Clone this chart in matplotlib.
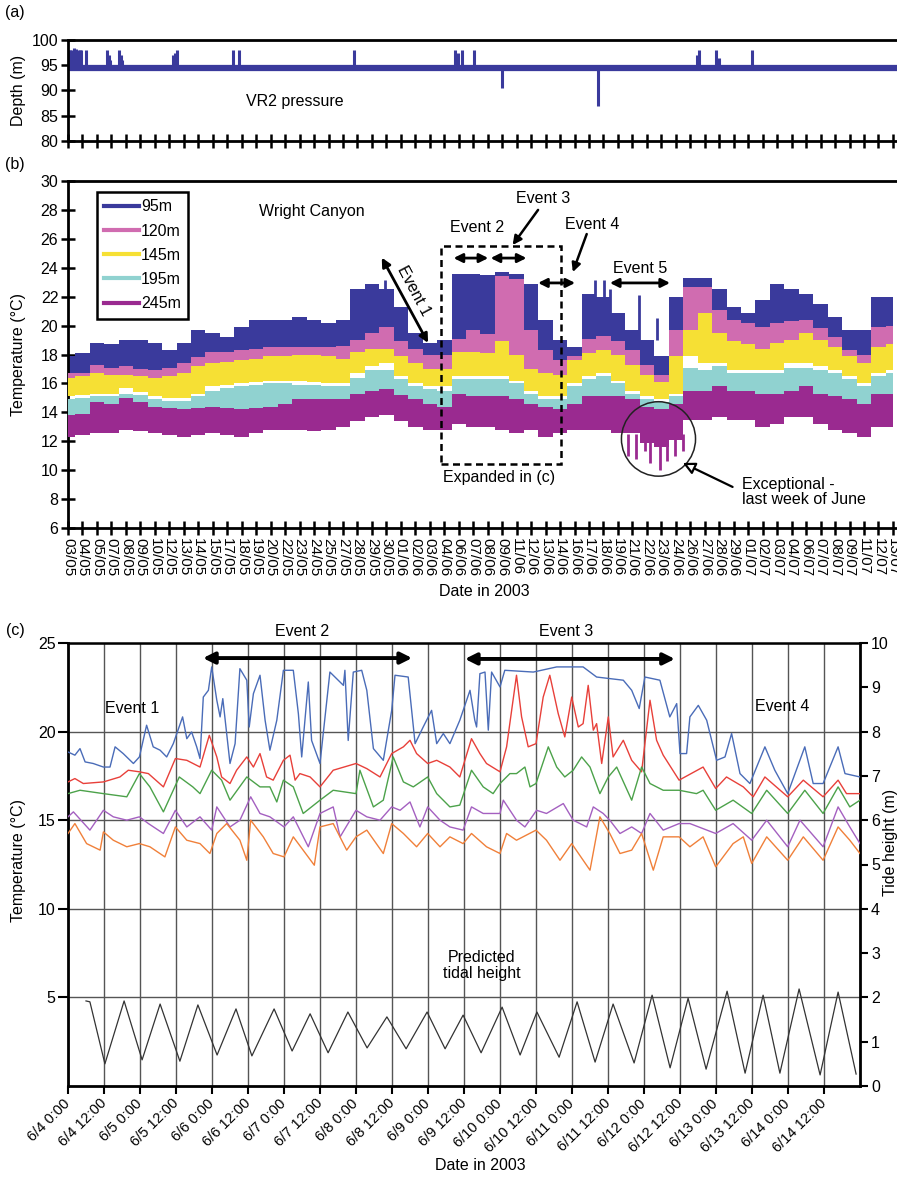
import matplotlib
matplotlib.use('Agg')
import matplotlib.pyplot as plt
from matplotlib.lines import Line2D
from matplotlib.patches import Rectangle, Ellipse

plt.rcParams['font.family'] = ['Liberation Sans', 'DejaVu Sans']
plt.rcParams['font.size'] = 11.5

# ---------------- panel (a): VR2 pressure depth ----------------
depth_base = 94.5
spike_days = [0.0, 0.15, 0.3, 0.5, 0.7, 0.85, 1.0, 1.15, 1.56, 3.37, 3.5, 3.63,
              4.41, 4.55, 4.7, 9.1, 9.25, 9.4, 14.26, 14.77, 24.71, 33.44, 33.7,
              34.0, 35.08, 37.5, 45.8, 54.3, 54.5, 56.0, 56.2, 59.1]
spike_depth = [98.0, 98.0, 98.0, 98.4, 98.3, 98.0, 98.0, 98.0, 98.0, 98.0, 97.0, 96.0,
               98.0, 97.0, 96.0, 97.0, 97.5, 98.0, 98.0, 98.0, 98.0, 98.0, 97.5,
               98.0, 98.0, 90.5, 87.0, 97.0, 98.0, 98.0, 96.5, 98.0]

# ---------------- panel (b): daily band envelopes (one value per date tick) ----------------
date_labels = ['03/05', '04/05', '05/05', '07/05', '08/05', '09/05', '10/05', '12/05', '13/05',
               '14/05', '15/05', '17/05', '18/05', '19/05', '20/05', '22/05', '23/05', '24/05',
               '25/05', '27/05', '28/05', '29/05', '30/05', '01/06', '02/06', '03/06', '04/06',
               '06/06', '07/06', '08/06', '09/06', '11/06', '12/06', '13/06', '14/06', '16/06',
               '17/06', '18/06', '19/06', '21/06', '22/06', '23/06', '24/06', '26/06', '27/06',
               '28/06', '29/06', '01/07', '02/07', '03/07', '04/07', '06/07', '07/07', '08/07',
               '09/07', '11/07', '12/07', '13/07']
tick_step = 1.25  # days between date ticks

t95_hi = [17.9, 18.1, 18.8, 18.7, 19.0, 19.0, 18.8, 18.3, 18.8, 19.7, 19.5, 19.2, 19.9, 20.4,
          20.4, 20.4, 20.6, 20.4, 20.2, 20.4, 22.5, 22.9, 22.5, 21.3, 19.5, 18.8, 19.0, 23.6,
          23.6, 23.5, 23.7, 23.6, 22.9, 20.4, 19.0, 18.5, 22.2, 22.0, 20.9, 19.7, 19.0, 17.9,
          22.0, 23.3, 23.3, 22.5, 21.3, 20.9, 21.8, 22.9, 22.5, 22.2, 21.5, 20.6, 19.7, 19.7,
          22.0, 22.0]
t95_lo = [16.7, 16.7, 17.3, 17.1, 17.2, 17.0, 16.9, 17.1, 17.4, 17.8, 18.2, 18.2, 18.3, 18.4,
          18.5, 18.5, 18.5, 18.5, 18.5, 18.6, 19.0, 19.5, 19.9, 18.9, 18.4, 18.0, 18.0, 19.1,
          19.7, 19.4, 19.5, 18.5, 19.7, 18.3, 17.6, 17.9, 19.1, 19.3, 18.9, 18.3, 17.3, 16.6,
          19.7, 22.7, 22.7, 21.1, 20.4, 20.2, 19.9, 20.2, 20.3, 20.4, 19.8, 19.2, 18.3, 18.0,
          19.9, 20.0]
t120_hi = [16.7, 16.7, 17.3, 17.1, 17.2, 17.0, 16.9, 17.1, 17.4, 17.8, 18.2, 18.2, 18.3, 18.4,
           18.5, 18.5, 18.5, 18.5, 18.5, 18.6, 19.0, 19.5, 19.9, 18.9, 18.4, 18.0, 18.0, 19.1,
           19.7, 19.4, 23.4, 23.2, 19.7, 18.3, 17.6, 17.9, 19.1, 19.3, 18.9, 18.3, 17.3, 16.6,
           19.7, 22.7, 22.7, 21.1, 20.4, 20.2, 19.9, 20.2, 20.3, 20.4, 19.8, 19.2, 18.3, 18.0,
           19.9, 20.0]
t120_lo = [16.4, 16.5, 16.7, 16.6, 16.6, 16.5, 16.4, 16.5, 16.7, 17.2, 17.4, 17.5, 17.6, 17.7,
           17.9, 17.9, 18.0, 18.0, 17.9, 17.7, 18.2, 18.4, 18.4, 17.9, 17.4, 17.0, 17.0, 18.2,
           18.2, 18.1, 18.9, 18.0, 17.0, 16.7, 16.6, 17.6, 18.1, 18.3, 18.0, 17.3, 16.6, 16.1,
           17.9, 19.7, 20.9, 19.5, 18.9, 18.7, 18.4, 18.8, 19.0, 19.5, 19.0, 18.5, 17.9, 17.4,
           18.5, 18.7]
t145_hi = [16.4, 16.5, 16.7, 16.6, 16.6, 16.5, 16.4, 16.5, 16.7, 17.2, 17.4, 17.5, 17.6, 17.7,
           17.9, 17.9, 18.0, 18.0, 17.9, 17.7, 18.2, 18.4, 18.4, 17.9, 17.4, 17.0, 17.0, 18.2,
           18.2, 18.1, 18.9, 18.0, 17.0, 16.7, 16.6, 17.6, 18.1, 18.3, 18.0, 17.3, 16.6, 16.1,
           17.9, 19.7, 20.9, 19.5, 18.9, 18.7, 18.4, 18.8, 19.0, 19.5, 19.0, 18.5, 17.9, 17.4,
           18.5, 18.7]
t145_lo = [15.1, 15.2, 15.3, 15.3, 15.7, 15.4, 15.1, 15.0, 15.0, 15.3, 15.8, 15.9, 16.0, 16.1,
           16.2, 16.2, 16.2, 16.1, 16.0, 16.0, 16.7, 17.2, 17.4, 16.5, 16.0, 15.8, 15.8, 16.5,
           16.5, 16.5, 16.5, 16.2, 15.5, 15.1, 15.1, 16.0, 16.5, 16.7, 16.2, 15.5, 15.1, 14.9,
           15.3, 17.9, 17.4, 17.4, 16.9, 16.9, 16.9, 16.9, 17.4, 17.4, 17.2, 16.9, 16.5, 16.0,
           16.7, 16.9]
t195_hi = [14.9, 15.0, 15.1, 15.1, 15.3, 15.2, 14.9, 14.8, 14.8, 15.1, 15.5, 15.7, 15.8, 15.9,
           16.0, 16.0, 15.9, 15.9, 15.8, 15.8, 16.4, 16.9, 16.9, 16.3, 15.8, 15.6, 15.5, 16.3,
           16.3, 16.3, 16.3, 16.0, 15.3, 14.9, 14.9, 15.8, 16.3, 16.5, 16.0, 15.3, 14.9, 14.7,
           15.1, 17.1, 16.9, 17.2, 16.7, 16.7, 16.7, 16.7, 17.1, 17.1, 16.9, 16.7, 16.3, 15.8,
           16.5, 16.7]
t195_lo = [13.8, 13.9, 14.7, 14.6, 15.0, 14.7, 14.4, 14.3, 14.2, 14.3, 14.4, 14.3, 14.2, 14.3,
           14.4, 14.6, 14.9, 14.9, 14.9, 14.9, 15.3, 15.5, 15.6, 15.2, 14.9, 14.6, 14.4, 15.3,
           15.1, 15.1, 15.1, 14.9, 14.6, 14.4, 14.2, 14.6, 15.1, 15.1, 15.1, 14.9, 14.4, 14.2,
           14.6, 15.5, 15.5, 15.8, 15.5, 15.5, 15.3, 15.3, 15.5, 15.8, 15.3, 15.1, 14.9, 14.6,
           15.3, 15.3]
t245_hi = [13.8, 13.9, 14.7, 14.6, 15.0, 14.7, 14.4, 14.3, 14.2, 14.3, 14.4, 14.3, 14.2, 14.3,
           14.4, 14.6, 14.9, 14.9, 14.9, 14.9, 15.3, 15.5, 15.6, 15.2, 14.9, 14.6, 14.4, 15.3,
           15.1, 15.1, 15.1, 14.9, 14.6, 14.4, 14.2, 14.6, 15.1, 15.1, 15.1, 14.9, 14.4, 14.2,
           14.6, 15.5, 15.5, 15.8, 15.5, 15.5, 15.3, 15.3, 15.5, 15.8, 15.3, 15.1, 14.9, 14.6,
           15.3, 15.3]
t245_lo = [12.3, 12.4, 12.6, 12.6, 12.8, 12.7, 12.6, 12.4, 12.3, 12.4, 12.6, 12.4, 12.3, 12.6,
           12.8, 12.8, 12.8, 12.7, 12.8, 13.0, 13.4, 13.7, 13.8, 13.4, 13.0, 12.8, 12.8, 13.2,
           13.0, 13.0, 12.8, 12.6, 12.8, 12.3, 12.6, 12.8, 12.8, 12.8, 12.6, 12.6, 11.9, 11.6,
           12.1, 13.5, 13.5, 13.7, 13.5, 13.5, 13.0, 13.2, 13.7, 13.7, 13.2, 12.8, 12.6, 12.3,
           13.0, 13.0]
# narrow spikes that stand out of the bands
spk95_days = [27.4, 45.5, 46.3, 46.8, 49.3, 50.9]
spk95_top = [23.15, 23.15, 23.15, 22.5, 22.1, 20.5]
spk245_days = [48.4, 49.1, 49.8, 50.3, 51.1, 51.7, 52.4, 53.1]
spk245_low = [11.0, 10.8, 11.3, 10.5, 10.0, 10.6, 11.0, 11.3]

depths = ['95m', '120m', '145m', '195m', '245m']
colors_b = ['#3a3a9c', '#d06cb0', '#f6e034', '#90d2d0', '#9a2a90']

# ---------------- panel (c): 6/4 - 6/15, hours from 6/4 0:00 ----------------
c95_h = [0, 2.3, 4, 5.7, 8.4, 11.8, 14, 15.7, 18.4, 21.8, 23.8, 26.2, 28.4, 30.7, 32.9, 35.1,
         38.2, 39.6, 41.2, 42.9, 44, 45.1, 46.8, 47.9, 49.6, 50.7, 51.6, 54, 55.7, 57.3, 59.6,
         60.4, 61.8, 64, 65.7, 67.3, 69.6, 71.8, 75.1, 76.8, 77.9, 80.1, 81.2, 84, 87.3, 91.8,
         92.3, 93.4, 95.1, 97.9, 99.6, 101.8, 105.1, 107.9, 109, 113.4, 115.7, 118.4, 121.2,
         122.9, 125.1, 127.3, 130.6, 134, 135.6, 136.2, 137.3, 139, 140.1, 141.2, 144, 145.6,
         155.1, 162.9, 171.7, 176.2, 185.1, 187.9, 190.4, 192.3, 197.3, 200.6, 202.9, 204,
         206.2, 207.3, 210.1, 212.9, 216.2, 219, 221.2, 224, 227.3, 232.3, 235.6, 239.9, 245.6,
         248.4, 251.7, 256.7, 259, 264]
c95_t = [18.85, 18.67, 19.04, 18.29, 18.2, 18.0, 18.0, 19.14, 18.76, 18.2, 18.57, 20.36, 19.14,
         18.95, 18.57, 19.32, 20.83, 19.6, 19.98, 19.14, 18.48, 21.95, 22.33, 23.65, 21.77,
         20.83, 21.86, 18.2, 19.32, 23.55, 22.9, 20.26, 22.14, 23.18, 20.64, 18.95, 20.64,
         23.46, 23.46, 21.0, 18.57, 22.8, 19.5, 18.2, 23.36, 22.61, 23.46, 19.5, 23.36, 23.46,
         22.33, 19.04, 18.38, 21.2, 23.18, 23.08, 19.32, 20.26, 21.2, 19.32, 19.89, 19.32,
         20.64, 22.33, 20.64, 20.26, 23.27, 23.36, 20.08, 23.36, 22.52, 23.46, 23.36, 23.65,
         23.65, 23.08, 22.9, 22.33, 21.3, 23.08, 22.9, 20.83, 21.58, 18.76, 18.76, 20.83,
         21.48, 20.64, 18.38, 18.57, 19.89, 17.63, 17.07, 19.14, 17.82, 16.5, 19.14, 17.07,
         17.07, 19.14, 17.63, 17.44]
c120_h = [0, 2.3, 5.1, 11.8, 17.3, 20.1, 23.8, 26.8, 31.8, 35.8, 39.6, 44, 47.1, 49.6, 51.2,
          54, 56.2, 59.6, 61.8, 64, 66.2, 68.4, 71.8, 74, 75.7, 77.3, 80.7, 84, 88.4, 96, 99.6,
          104, 107.9, 111.8, 114, 116.2, 119.9, 122.9, 127.3, 130.6, 134.5, 137.3, 139.5, 144,
          146.2, 149.5, 151.2, 153.4, 156, 158.4, 160.6, 163.4, 165.6, 167.9, 170.1, 171.7,
          173.4, 175.1, 176.2, 177.9, 180.1, 181.7, 185.1, 187.9, 191.2, 194, 196.2, 198.4,
          203.7, 211.7, 215.9, 219.5, 225.1, 228.4, 232.3, 239.9, 245.1, 251.7, 256.7, 259.5, 264]
c120_t = [17.16, 17.35, 17.07, 17.16, 17.44, 17.82, 17.73, 17.63, 16.88, 18.48, 18.38, 18.0,
          19.79, 18.57, 17.44, 17.07, 17.82, 18.57, 18.0, 18.76, 17.44, 17.26, 18.38, 18.67,
          17.26, 17.63, 17.44, 16.88, 17.82, 18.2, 17.91, 17.44, 18.76, 19.14, 19.51, 18.76,
          18.2, 18.38, 18.0, 17.44, 19.6, 18.76, 18.2, 17.73, 19.14, 23.18, 20.83, 19.14,
          19.32, 21.95, 23.18, 21.02, 19.7, 21.95, 20.26, 20.45, 22.61, 20.08, 20.45, 18.2,
          20.83, 18.57, 19.51, 18.38, 17.73, 21.77, 19.51, 18.67, 17.26, 18.0, 16.79, 17.44,
          16.88, 16.32, 17.44, 16.32, 17.26, 16.32, 17.26, 16.5, 16.5]
c145_h = [0, 4, 11.8, 19.6, 23.8, 27.3, 31.8, 37.1, 41.6, 44, 47.9, 51.2, 54, 59.6, 64, 67.3,
          69.6, 71.8, 75.1, 78.4, 84, 88.4, 96, 97.3, 101.8, 105.1, 108.4, 111.8, 115.1, 119.9,
          122.9, 127.3, 130.6, 134.5, 138.4, 141.7, 144, 147.3, 149.5, 152.3, 154, 156, 160.1,
          162.9, 165.6, 168.4, 171.2, 174, 177.3, 180.1, 182.9, 187.9, 191.2, 194, 198.4,
          203.7, 209.5, 211.7, 215.9, 221.7, 227.9, 232.9, 239.9, 245.6, 251.7, 256.7, 260.6, 264]
c145_t = [16.5, 16.69, 16.5, 16.32, 17.63, 16.88, 15.47, 17.44, 16.88, 16.5, 17.82, 17.26,
          16.13, 17.44, 16.88, 16.88, 16.03, 17.26, 16.88, 15.38, 16.13, 16.69, 16.5, 17.82,
          15.75, 16.13, 18.57, 17.16, 16.88, 17.44, 16.5, 15.75, 15.85, 17.82, 16.88, 16.5,
          17.07, 17.63, 17.63, 18.0, 16.88, 17.07, 19.14, 18.0, 17.44, 17.82, 18.57, 18.0,
          16.5, 17.44, 18.0, 16.13, 18.0, 17.07, 16.69, 16.69, 16.5, 16.69, 15.56, 16.13,
          15.38, 16.69, 15.38, 16.69, 15.38, 16.88, 15.75, 16.13]
c195_h = [0, 1.8, 7.3, 11.8, 15.1, 19.6, 23.8, 26.8, 31.8, 35.8, 39.6, 44, 47.9, 49.6, 54,
          57.3, 60.9, 64, 67.3, 72, 75.1, 80.1, 84, 88.4, 90.7, 96, 99.6, 104, 107.9, 110.7,
          114, 117.3, 119.9, 124, 127.3, 131.7, 134.5, 138.4, 144, 145.1, 149.5, 152.3, 156.2,
          159.5, 165.1, 168.4, 172.9, 175.1, 178.4, 180.6, 184, 187.9, 191.2, 194, 198.4,
          203.7, 207.3, 215.9, 221.7, 227.9, 232.9, 239.9, 244, 251.7, 256.7, 260.6, 264]
c195_t = [15.19, 15.47, 14.44, 15.56, 15.19, 15.0, 15.19, 14.81, 14.25, 15.56, 14.62, 15.19,
          14.44, 15.75, 14.62, 15.0, 16.32, 15.38, 15.19, 14.62, 15.19, 13.5, 15.38, 15.75,
          14.06, 15.56, 15.19, 15.0, 15.75, 15.56, 16.03, 14.62, 15.75, 15.0, 14.62, 14.44,
          15.75, 15.38, 15.38, 16.13, 15.0, 14.62, 15.56, 15.38, 15.94, 15.0, 14.62, 15.75,
          15.38, 15.0, 14.25, 14.62, 14.25, 15.38, 14.44, 14.81, 14.81, 14.25, 14.81, 13.87,
          15.0, 13.5, 15.0, 13.5, 15.75, 14.62, 13.68]
c245_h = [0, 2.3, 6.2, 10.7, 11.8, 15.1, 19.6, 23.8, 27.3, 32.3, 35.8, 39.6, 44, 47.3, 49.6,
          52.9, 57.3, 59.6, 60.9, 65.1, 68.4, 72, 75.1, 82.1, 84, 88.4, 92.9, 96, 99.6, 105.1,
          107.9, 111.8, 116.2, 119.9, 124, 127.3, 131.7, 134.5, 139.5, 144, 146.2, 149.5, 156,
          159.5, 164, 167.9, 174, 177.3, 180.6, 184, 187.9, 191.2, 195.1, 198.4, 203.7, 207.3,
          211.7, 215.9, 221.7, 225.1, 227.9, 232.9, 239.9, 245.1, 251.7, 256.7, 260.6, 264]
c245_t = [14.25, 14.81, 13.68, 13.31, 14.34, 13.87, 13.5, 13.68, 13.5, 12.93, 14.62, 13.87,
          13.68, 13.12, 14.25, 14.81, 13.87, 12.74, 15.0, 14.06, 13.12, 12.93, 14.06, 12.46,
          14.62, 14.81, 13.31, 14.06, 14.44, 13.12, 14.81, 14.25, 13.5, 14.25, 13.5, 14.06,
          13.68, 14.25, 13.5, 13.12, 14.25, 13.87, 14.44, 13.87, 12.74, 13.68, 12.18, 15.19,
          14.25, 13.12, 13.31, 14.25, 12.18, 14.06, 14.06, 13.5, 14.06, 12.37, 13.68, 14.06,
          12.56, 14.06, 12.74, 14.06, 12.74, 14.62, 13.87, 13.12]
tide_h = [6, 7.3, 12.3, 18.7, 24.7, 30.7, 37.3, 43.3, 49.7, 56, 61.3, 68.7, 74.7, 80.7, 86.7,
          93.3, 99.7, 106.3, 112.7, 119.7, 125.7, 131.7, 137.7, 144.7, 150.7, 156.3, 163.7,
          169.7, 175.7, 181.7, 188.7, 194.7, 200.7, 206.7, 212.7, 219.7, 225.7, 231.7, 237.3,
          243.7, 250.7, 256.7, 262.7]
tide_m = [1.92, 1.90, 0.50, 1.92, 0.59, 1.85, 0.56, 1.83, 0.70, 1.74, 0.68, 1.74, 0.79, 1.63,
          0.75, 1.67, 0.86, 1.56, 0.84, 1.67, 0.84, 1.60, 0.75, 1.78, 0.70, 1.67, 0.65, 1.90,
          0.54, 1.85, 0.52, 2.05, 0.41, 1.98, 0.38, 2.14, 0.29, 2.05, 0.29, 2.19, 0.25, 2.12, 0.27]
c_labels = ['6/4 0:00', '6/4 12:00', '6/5 0:00', '6/5 12:00', '6/6 0:00', '6/6 12:00',
            '6/7 0:00', '6/7 12:00', '6/8 0:00', '6/8 12:00', '6/9 0:00', '6/9 12:00',
            '6/10 0:00', '6/10 12:00', '6/11 0:00', '6/11 12:00', '6/12 0:00', '6/12 12:00',
            '6/13 0:00', '6/13 12:00', '6/14 0:00', '6/14 12:00']
colors_c = ['#4a6cb8', '#e8403a', '#4ca24a', '#a460c0', '#f0803a']

W, H = 897.0, 1178.0


def box(l, t, r, b):
    return [l / W, 1 - b / H, (r - l) / W, (b - t) / H]


fig = plt.figure(figsize=(W / 100, H / 100), dpi=100)
axA = fig.add_axes(box(68, 40, 897, 141))
axB = fig.add_axes(box(68, 181, 897, 528))
axC = fig.add_axes(box(68, 643, 860, 1086))

tick_pos = [i * tick_step for i in range(len(date_labels))]
xmax_b = 71.6

for ax in (axA, axB):
    ax.set_xlim(0, xmax_b)
    ax.spines['right'].set_visible(False)
    for s in ('left', 'bottom', 'top'):
        ax.spines[s].set_linewidth(2.0)
    ax.set_xticks(tick_pos)
    ax.tick_params(direction='inout', length=10, width=1.8, labelsize=11.5, pad=2)

# (a)
axA.set_ylim(80, 100)
axA.set_yticks([80, 85, 90, 95, 100])
axA.set_xticklabels([])
axA.axhline(depth_base, color='#3a3a9c', lw=4.5)
axA.vlines(spike_days, depth_base, spike_depth, color='#3a3a9c', lw=2.2)
axA.text(19.6, 87.9, 'VR2 pressure', ha='center', va='center')

# (b)
axB.set_ylim(6, 30)
axB.set_yticks(range(6, 31, 2))
axB.set_xticklabels(date_labels, rotation=-90, fontsize=11)
bands = [(t95_lo, t95_hi), (t120_lo, t120_hi), (t145_lo, t145_hi),
         (t195_lo, t195_hi), (t245_lo, t245_hi)]
for k, (lo, hi) in enumerate(bands):
    axB.fill_between(tick_pos, lo, hi, step='mid', color=colors_b[k], lw=0, zorder=2 + k)
axB.vlines(spk95_days, 19.0, spk95_top, color=colors_b[0], lw=2, zorder=2)
axB.vlines(spk245_days, 12.5, spk245_low, color=colors_b[4], lw=2, zorder=6)

handles = [Line2D([], [], color=c, lw=3) for c in colors_b]
leg = axB.legend(handles, depths, loc='upper left', bbox_to_anchor=(0.035, 0.968),
                 borderaxespad=0, fancybox=False, edgecolor='k', framealpha=1,
                 handlelength=2.2, handletextpad=0.1, labelspacing=0.58, borderpad=0.45)
leg.get_frame().set_linewidth(1.8)
leg.set_zorder(20)

arrow2 = dict(arrowstyle='<|-|>', color='k', lw=2, mutation_scale=13, shrinkA=0, shrinkB=0)
arrow1 = dict(arrowstyle='-|>', color='k', lw=1.8, mutation_scale=13, shrinkA=0, shrinkB=0)
axB.text(21.1, 27.86, 'Wright Canyon', ha='center', va='center')
axB.annotate('', xy=(27.1, 24.7), xytext=(31.1, 18.8), arrowprops=arrow2, zorder=12)
axB.text(29.9, 22.4, 'Event 1', rotation=-62, ha='center', va='center', zorder=12)
axB.text(35.3, 26.75, 'Event 2', ha='center', va='center')
axB.annotate('', xy=(33.3, 24.67), xytext=(36.3, 24.67), arrowprops=arrow2)
axB.annotate('', xy=(36.5, 24.67), xytext=(39.6, 24.67), arrowprops=arrow2)
axB.text(41.0, 28.76, 'Event 3', ha='center', va='center')
axB.annotate('', xy=(38.4, 25.57), xytext=(40.6, 28.0), arrowprops=arrow1)
axB.text(45.3, 26.96, 'Event 4', ha='center', va='center')
axB.annotate('', xy=(43.6, 23.7), xytext=(44.8, 26.33), arrowprops=arrow1)
axB.annotate('', xy=(40.6, 22.95), xytext=(43.8, 22.95), arrowprops=arrow2, zorder=12)
axB.text(49.4, 23.98, 'Event 5', ha='center', va='center')
axB.annotate('', xy=(46.8, 22.95), xytext=(52.0, 22.95), arrowprops=arrow2)
axB.add_patch(Rectangle((32.2, 10.4), 10.4, 15.1, fill=False, ec='k', lw=1.8,
                        ls=(0, (2.8, 1.8)), zorder=11))
axB.text(37.2, 9.46, 'Expanded in (c)', ha='center', va='center')
axB.add_patch(Ellipse((51.0, 12.16), 6.4, 5.15, fill=False, ec='#222', lw=1.1, zorder=12))
axB.annotate('', xy=(53.1, 10.5), xytext=(57.4, 8.84),
             arrowprops=dict(arrowstyle='-|>', fc='white', ec='k', lw=1.6,
                             mutation_scale=18, shrinkA=0, shrinkB=0), zorder=12)
axB.text(58.2, 8.5, 'Exceptional -\nlast week of June', ha='left', va='center',
         linespacing=1.05)

# (c)
hours_max = 264
axC.set_xlim(0, hours_max)
axC.set_ylim(0, 25)
axC.set_yticks([5, 10, 15, 20, 25])
axC.set_xticks(range(0, 253, 12))
axC.set_xticklabels(c_labels, rotation=45, ha='right', va='center',
                    rotation_mode='anchor', fontsize=10.5)
axC.tick_params(axis='x', direction='out', length=6, width=1.5, pad=5)
axC.tick_params(axis='y', direction='out', length=7, width=1.5, labelsize=11.5, pad=2)
axC.grid(True, color='#555555', lw=1.0)
axC.set_axisbelow(True)
for s in ('left', 'bottom', 'right'):
    axC.spines[s].set_linewidth(2.0)
axC.spines['top'].set_linewidth(1.8)

series_c = [(c95_h, c95_t), (c120_h, c120_t), (c145_h, c145_t),
            (c195_h, c195_t), (c245_h, c245_t)]
for k, (hh, tt) in enumerate(series_c):
    axC.plot(hh, tt, color=colors_c[k], lw=1.0, zorder=3)

axT = axC.twinx()
axT.set_ylim(0, 10)
axT.set_yticks(range(0, 11))
axT.tick_params(direction='out', length=6, width=1.5, labelsize=11.5, pad=2)
axT.plot(tide_h, tide_m, color='#333333', lw=0.9)
for s in ('left', 'bottom', 'right', 'top'):
    axT.spines[s].set_visible(False)

arrow3 = dict(arrowstyle='<|-|>', color='k', lw=2.8, mutation_scale=17, shrinkA=0, shrinkB=0)
axC.annotate('', xy=(45, 24.15), xytext=(114.7, 24.15), arrowprops=arrow3, zorder=10)
axC.annotate('', xy=(132.3, 24.1), xytext=(202.3, 24.1), arrowprops=arrow3, zorder=10)
axC.text(78, 25.65, 'Event 2', ha='center', va='center')
axC.text(166, 25.65, 'Event 3', ha='center', va='center')
axC.text(21.3, 21.3, 'Event 1', ha='center', va='center')
axC.text(238, 21.4, 'Event 4', ha='center', va='center')
axC.text(138, 6.8, 'Predicted\ntidal height', ha='center', va='center', linespacing=1.05)

# figure-level labels
fig.text(15 / W, 1 - 13 / H, '(a)', ha='center', va='center')
fig.text(15 / W, 1 - 165 / H, '(b)', ha='center', va='center')
fig.text(15 / W, 1 - 631 / H, '(c)', ha='center', va='center')
fig.text(18 / W, 1 - 90 / H, 'Depth (m)', rotation=90, ha='center', va='center')
fig.text(18 / W, 1 - 355 / H, 'Temperature (°C)', rotation=90, ha='center', va='center')
fig.text(18 / W, 1 - 860 / H, 'Temperature (°C)', rotation=90, ha='center', va='center')
fig.text(890 / W, 1 - 842 / H, 'Tide height (m)', rotation=90, ha='center', va='center')
fig.text(484 / W, 1 - 591 / H, 'Date in 2003', ha='center', va='center')
fig.text(480 / W, 1 - 1165 / H, 'Date in 2003', ha='center', va='center')

fig.savefig('out.png', dpi=100)
